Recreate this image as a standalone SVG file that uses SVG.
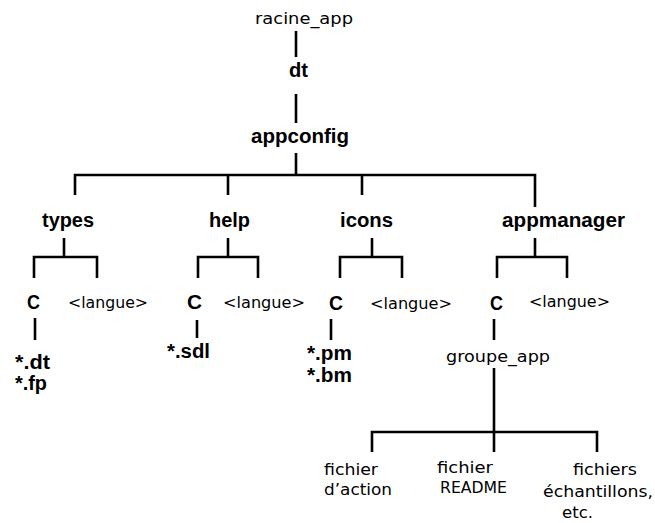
<svg xmlns="http://www.w3.org/2000/svg" width="655" height="523" viewBox="0 0 655 523">
  <style>
    .bg { fill: #ffffff; }
    .edge { stroke: #000000; stroke-width: 2.6; fill: none; stroke-linecap: butt; }
    .b { font-family: "Liberation Sans", Arial, sans-serif; font-weight: bold; font-size: 20px; fill: #000000; }
    .r { font-family: "DejaVu Sans", sans-serif; font-size: 15px; fill: #000000; }
    .s { font-family: "DejaVu Sans", sans-serif; font-size: 16px; fill: #000000; }
  </style>
  <rect class="bg" x="0" y="0" width="655" height="523"/>

  <!-- connectors -->
  <g id="connectors" class="edge">
    <line x1="296" y1="31" x2="296" y2="57"/>
    <line x1="296" y1="94" x2="296" y2="123"/>
    <line x1="296" y1="153" x2="296" y2="175"/>
    <polyline points="75,195 75,175 535,175 535,207"/>
    <line x1="228" y1="175" x2="228" y2="195"/>
    <line x1="362" y1="175" x2="362" y2="195"/>

    <!-- types -->
    <line x1="64" y1="238" x2="64" y2="257"/>
    <polyline points="34,278 34,257 97,257 97,278"/>
    <line x1="35" y1="318" x2="35" y2="340"/>

    <!-- help -->
    <line x1="228" y1="238" x2="228" y2="257"/>
    <polyline points="198,278 198,257 258,257 258,278"/>
    <line x1="197" y1="320" x2="197" y2="338"/>

    <!-- icons -->
    <line x1="372" y1="238" x2="372" y2="257"/>
    <polyline points="340,278 340,257 402,257 402,278"/>
    <line x1="331" y1="319" x2="331" y2="340"/>

    <!-- appmanager -->
    <line x1="535" y1="238" x2="535" y2="257"/>
    <polyline points="497,278 497,257 567,257 567,278"/>
    <line x1="494" y1="319" x2="494" y2="340"/>

    <!-- groupe_app -->
    <line x1="494" y1="368" x2="494" y2="452"/>
    <polyline points="372,452 372,432 597,432 597,452"/>
  </g>

  <!-- nodes -->
  <g id="racine_app"><text class="r" x="255" y="24" textLength="98" lengthAdjust="spacingAndGlyphs">racine_app</text></g>
  <g id="dt"><text class="b" x="289" y="77" textLength="19" lengthAdjust="spacingAndGlyphs">dt</text></g>
  <g id="appconfig"><text class="b" x="251" y="143" textLength="98" lengthAdjust="spacingAndGlyphs">appconfig</text></g>

  <g id="types"><text class="b" x="42" y="227" textLength="52" lengthAdjust="spacingAndGlyphs">types</text></g>
  <g id="help"><text class="b" x="209" y="227" textLength="41" lengthAdjust="spacingAndGlyphs">help</text></g>
  <g id="icons"><text class="b" x="340" y="227" textLength="53" lengthAdjust="spacingAndGlyphs">icons</text></g>
  <g id="appmanager"><text class="b" x="502" y="227" textLength="123" lengthAdjust="spacingAndGlyphs">appmanager</text></g>

  <g id="types-c"><text class="b" x="27" y="309" textLength="13" lengthAdjust="spacingAndGlyphs">C</text></g>
  <g id="types-langue"><text class="r" x="68" y="308" textLength="80" lengthAdjust="spacingAndGlyphs">&lt;langue&gt;</text></g>
  <g id="types-files">
    <text class="b" x="15" y="369" textLength="35" lengthAdjust="spacingAndGlyphs">*.dt</text>
    <text class="b" x="15" y="390" textLength="32" lengthAdjust="spacingAndGlyphs">*.fp</text>
  </g>

  <g id="help-c"><text class="b" x="187" y="309" textLength="15" lengthAdjust="spacingAndGlyphs">C</text></g>
  <g id="help-langue"><text class="r" x="223" y="308" textLength="82" lengthAdjust="spacingAndGlyphs">&lt;langue&gt;</text></g>
  <g id="help-files"><text class="b" x="167" y="358" textLength="43" lengthAdjust="spacingAndGlyphs">*.sdl</text></g>

  <g id="icons-c"><text class="b" x="329" y="310" textLength="14" lengthAdjust="spacingAndGlyphs">C</text></g>
  <g id="icons-langue"><text class="r" x="370" y="309" textLength="82" lengthAdjust="spacingAndGlyphs">&lt;langue&gt;</text></g>
  <g id="icons-files">
    <text class="b" x="307" y="360" textLength="45" lengthAdjust="spacingAndGlyphs">*.pm</text>
    <text class="b" x="307" y="382" textLength="45" lengthAdjust="spacingAndGlyphs">*.bm</text>
  </g>

  <g id="appmanager-c"><text class="b" x="490" y="310" textLength="13" lengthAdjust="spacingAndGlyphs">C</text></g>
  <g id="appmanager-langue"><text class="r" x="529" y="307" textLength="81" lengthAdjust="spacingAndGlyphs">&lt;langue&gt;</text></g>
  <g id="groupe_app"><text class="r" x="446" y="362" textLength="104" lengthAdjust="spacingAndGlyphs">groupe_app</text></g>

  <g id="fichier-action">
    <text class="s" x="324" y="475" textLength="54" lengthAdjust="spacingAndGlyphs">fichier</text>
    <text class="s" x="324" y="495" textLength="68" lengthAdjust="spacingAndGlyphs">d’action</text>
  </g>
  <g id="fichier-readme">
    <text class="s" x="437" y="473" textLength="56" lengthAdjust="spacingAndGlyphs">fichier</text>
    <text class="s" x="440" y="493" textLength="67" lengthAdjust="spacingAndGlyphs">README</text>
  </g>
  <g id="fichiers-echantillons">
    <text class="s" x="573" y="475" textLength="64" lengthAdjust="spacingAndGlyphs">fichiers</text>
    <text class="s" x="543" y="497" textLength="110" lengthAdjust="spacingAndGlyphs">échantillons,</text>
    <text class="s" x="562" y="518" textLength="31" lengthAdjust="spacingAndGlyphs">etc.</text>
  </g>
</svg>
